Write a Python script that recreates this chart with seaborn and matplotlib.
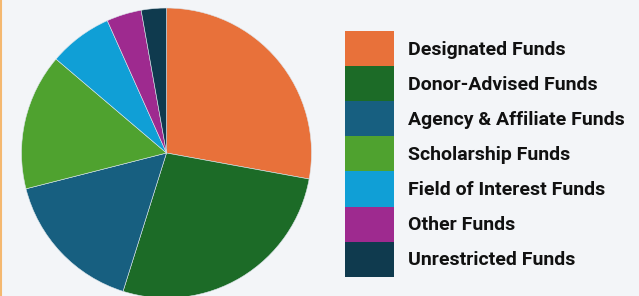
import matplotlib
matplotlib.use("Agg")
import matplotlib.pyplot as plt
import seaborn as sns
from matplotlib.lines import Line2D

categories = ["Designated Funds", "Donor-Advised Funds", "Agency & Affiliate Funds",
              "Scholarship Funds", "Field of Interest Funds", "Other Funds",
              "Unrestricted Funds"]
values = [27.9, 27.0, 16.2, 15.2, 7.1, 3.9, 2.8]
colors = ["#E8713A", "#1C6B27", "#175F80", "#4FA22F", "#109FD6", "#9E2A8F", "#0F3A4E"]

sns.set_theme(style="white")
plt.rcParams['font.family'] = ['Roboto', 'DejaVu Sans']
palette = sns.color_palette(colors)

bg = "#F3F5F8"
fig = plt.figure(figsize=(6.39, 2.96), dpi=100, facecolor=bg)
ax = fig.add_axes([0, 0, 1, 1])
ax.set_facecolor(bg)

wedges, _ = ax.pie(values, colors=palette, startangle=90, counterclock=False,
                   center=(166.5, 296 - 153), radius=145,
                   wedgeprops=dict(edgecolor="#DDE6EC", linewidth=0.4),
                   frame=True)
ax.set_xlim(0, 639)
ax.set_ylim(0, 296)
ax.axis("off")

fs = 14.0
fpx = fs * 100 / 72
hh = (35.1 / fpx - 0.245) / 0.65
leg = fig.legend(wedges, categories, loc="upper left",
                 bbox_to_anchor=(345 / 639, 1 - 31 / 296),
                 frameon=False, borderpad=0, borderaxespad=0,
                 labelspacing=0, handlelength=49 / fpx,
                 handleheight=hh,
                 handletextpad=13.5 / fpx,
                 prop=dict(size=fs, weight="bold"))
for t in leg.get_texts():
    t.set_color("#111111")
for h in leg.legend_handles:
    h.set_edgecolor("none")

fig.add_artist(Line2D([0.001, 0.001], [0, 1], transform=fig.transFigure,
                      color="#F4B870", linewidth=1.5))

fig.savefig("out.png", dpi=100, facecolor=bg)
